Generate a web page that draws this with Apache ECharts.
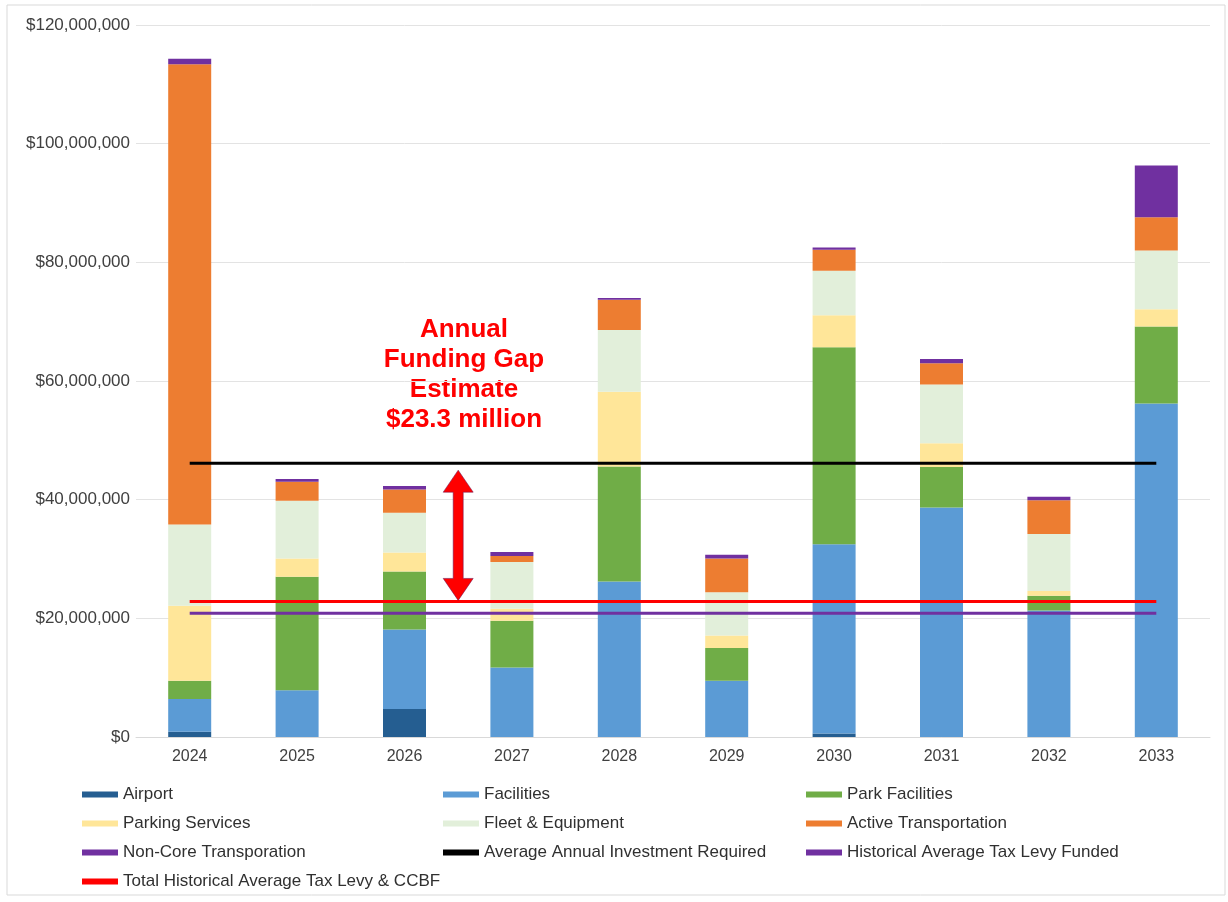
<!DOCTYPE html>
<html>
<head>
<meta charset="utf-8">
<title>Annual Funding Gap</title>
<script src="https://cdn.jsdelivr.net/npm/echarts@6/dist/echarts.min.js"></script>
<style>
  html, body { margin: 0; padding: 0; background: #fff; }
  #main { width: 1228px; height: 902px; }
</style>
</head>
<body>
<div id="main"></div>
<script>
// categories
const years = ['2024', '2025', '2026', '2027', '2028', '2029', '2030', '2031', '2032', '2033'];

// stacked capital segments, dollars
const airport      = [900000,   0,        4700000,  0,        0,        0,       600000,   0,        0,        0];
const facilities   = [5500000,  7900000,  13400000, 11700000, 26200000, 9500000, 31900000, 38700000, 21300000, 56200000];
const parkFac      = [3100000,  19100000, 9800000,  7900000,  19400000, 5500000, 33200000, 6800000,  2500000,  13000000];
const parking      = [12600000, 3100000,  3200000,  2000000,  12600000, 2100000, 5400000,  4000000,  800000,   2900000];
const fleet        = [13700000, 9700000,  6700000,  7900000,  10400000, 7300000, 7500000,  9900000,  9600000,  9900000];
const activeTrans  = [77600000, 3200000,  3900000,  1000000,  5100000,  5700000, 3500000,  3600000,  5700000,  5600000];
const nonCore      = [900000,   500000,   600000,   700000,   300000,   600000,  400000,   700000,   600000,   8700000];

// reference lines, dollars
const avgRequired  = [46150000, 46150000, 46150000, 46150000, 46150000, 46150000, 46150000, 46150000, 46150000, 46150000];
const levyFunded   = [20850000, 20850000, 20850000, 20850000, 20850000, 20850000, 20850000, 20850000, 20850000, 20850000];
const levyCCBF     = [22850000, 22850000, 22850000, 22850000, 22850000, 22850000, 22850000, 22850000, 22850000, 22850000];

// y axis ticks
const yTicks = [0, 20000000, 40000000, 60000000, 80000000, 100000000, 120000000];

// gap arrow sits between 2026 and 2027
const gapArrow = [[2, avgRequired[2], levyCCBF[2]]];

const chart = echarts.init(document.getElementById('main'));

function fmtMoney(v) {
  return '$' + v.toString().replace(/\B(?=(\d{3})+(?!\d))/g, ',');
}

function barSeries(name, data, color) {
  return {
    name: name,
    type: 'bar',
    stack: 'total',
    barWidth: 43,
    itemStyle: { color: color },
    emphasis: { disabled: true },
    data: data
  };
}

function lineSeries(name, data, color) {
  return {
    name: name,
    type: 'line',
    showSymbol: false,
    symbol: 'none',
    z: 5,
    lineStyle: { color: color, width: 3 },
    itemStyle: { color: color },
    data: data
  };
}

const legendText = { fontFamily: 'Liberation Sans', fontSize: 17, color: '#303030' };
const legendBase = {
  orient: 'vertical',
  top: 786,
  icon: 'rect',
  itemWidth: 36,
  itemHeight: 6,
  itemGap: 12,
  selectedMode: false,
  textStyle: legendText,
  padding: 0
};

chart.setOption({
  animation: false,
  textStyle: { fontFamily: 'Liberation Sans' },
  grid: { left: 136, right: 18, top: 25, bottom: 165 },
  graphic: [
    {
      type: 'rect',
      shape: { x: 7, y: 5, width: 1218, height: 890 },
      style: { fill: 'none', stroke: '#d9d9d9', lineWidth: 1 },
      silent: true
    },
    {
      type: 'text',
      x: 464,
      y: 315,
      style: {
        text: 'Annual\nFunding Gap\nEstimate\n$23.3 million',
        fill: '#ff0000',
        font: 'bold 26px "Liberation Sans"',
        lineHeight: 30,
        align: 'center',
        verticalAlign: 'top'
      },
      silent: true
    }
  ],
  legend: [
    Object.assign({}, legendBase, { left: 82, data: ['Airport', 'Parking Services', 'Non-Core Transporation', 'Total Historical Average Tax Levy & CCBF'] }),
    Object.assign({}, legendBase, { left: 443, data: ['Facilities', 'Fleet & Equipment', 'Average Annual Investment Required'] }),
    Object.assign({}, legendBase, { left: 806, data: ['Park Facilities', 'Active Transportation', 'Historical Average Tax Levy Funded'] })
  ],
  xAxis: {
    type: 'category',
    data: years,
    axisLine: { lineStyle: { color: '#d9d9d9' } },
    axisTick: { show: false },
    axisLabel: { color: '#404040', fontSize: 16, margin: 12 }
  },
  yAxis: {
    type: 'value',
    min: yTicks[0],
    max: yTicks[yTicks.length - 1],
    interval: yTicks[1] - yTicks[0],
    axisLine: { show: false },
    axisTick: { show: false },
    splitLine: { lineStyle: { color: '#e3e3e3' } },
    axisLabel: { color: '#404040', fontSize: 17, margin: 6, formatter: fmtMoney }
  },
  series: [
    barSeries('Airport', airport, '#255e91'),
    barSeries('Facilities', facilities, '#5b9bd5'),
    barSeries('Park Facilities', parkFac, '#70ad47'),
    barSeries('Parking Services', parking, '#ffe699'),
    barSeries('Fleet & Equipment', fleet, '#e2efda'),
    barSeries('Active Transportation', activeTrans, '#ed7d31'),
    barSeries('Non-Core Transporation', nonCore, '#7030a0'),
    lineSeries('Average Annual Investment Required', avgRequired, '#000000'),
    lineSeries('Historical Average Tax Levy Funded', levyFunded, '#7030a0'),
    lineSeries('Total Historical Average Tax Levy & CCBF', levyCCBF, '#ff0000'),
    {
      name: 'gap',
      type: 'custom',
      z: 6,
      data: gapArrow,
      renderItem: function (params, api) {
        const top = api.coord([api.value(0), api.value(1)]);
        const bot = api.coord([api.value(0), api.value(2)]);
        const x = top[0] + api.size([1, 0])[0] / 2;
        const y1 = top[1] + 7;
        const y2 = bot[1] - 1;
        const hl = 22, hw = 15, sw = 5;
        return {
          type: 'polygon',
          shape: {
            points: [
              [x, y1], [x + hw, y1 + hl], [x + sw, y1 + hl],
              [x + sw, y2 - hl], [x + hw, y2 - hl], [x, y2],
              [x - hw, y2 - hl], [x - sw, y2 - hl], [x - sw, y1 + hl],
              [x - hw, y1 + hl]
            ]
          },
          style: { fill: '#ff0000', stroke: 'rgba(110,20,80,0.55)', lineWidth: 1 }
        };
      }
    }
  ]
});
</script>
</body>
</html>
